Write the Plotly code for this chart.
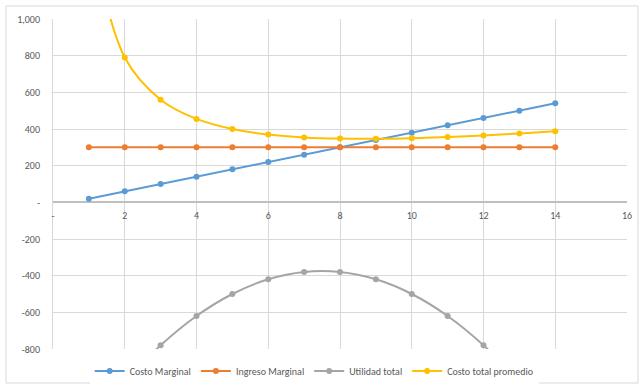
import plotly.graph_objects as go

# Quantity produced
cantidad = [1, 2, 3, 4, 5, 6, 7, 8, 9, 10, 11, 12, 13, 14]

# Series values
costo_marginal = [20, 60, 100, 140, 180, 220, 260, 300, 340, 380, 420, 460, 500, 540]
ingreso_marginal = [300, 300, 300, 300, 300, 300, 300, 300, 300, 300, 300, 300, 300, 300]
utilidad_total = [-1220, -980, -780, -620, -500, -420, -380, -380, -420, -500, -620, -780, -980, -1220]
costo_total_promedio = [1520, 790, 560, 455, 400, 370, 354.3, 347.5, 346.7, 350, 356.4, 365, 375.4, 387.1]

# Axis ticks
y_ticks = [1000, 800, 600, 400, 200, 0, -200, -400, -600, -800]
y_labels = ["1,000", "800", "600", "400", "200", "-", "-200", "-400", "-600", "-800"]
x_ticks = [0, 2, 4, 6, 8, 10, 12, 14, 16]
x_labels = ["-", "2", "4", "6", "8", "10", "12", "14", "16"]

series = [
    ("Costo Marginal", costo_marginal, "#5B9BD5", "linear"),
    ("Ingreso Marginal", ingreso_marginal, "#ED7D31", "linear"),
    ("Utilidad total", utilidad_total, "#A5A5A5", "spline"),
    ("Costo total promedio", costo_total_promedio, "#FFC000", "spline"),
]

fig = go.Figure()
for name, vals, color, shape in series:
    fig.add_trace(go.Scatter(
        x=cantidad, y=vals, name=name, mode="lines+markers",
        line=dict(color=color, width=2, shape=shape, smoothing=1.0),
        marker=dict(color=color, size=6),
    ))

font = dict(family="Carlito, Lato, 'Liberation Sans', sans-serif", size=10, color="#595959")
L, R, T, B = 53, 17, 19, 38
W, H = 644, 387
pw, ph = W - L - R, H - T - B

fig.update_layout(
    width=W, height=H,
    margin=dict(l=L, r=R, t=T, b=B, autoexpand=False),
    paper_bgcolor="white", plot_bgcolor="white",
    font=font,
    showlegend=True,
    legend=dict(orientation="h", x=0.455, xanchor="center",
                y=(349 - 371) / ph, yanchor="middle",
                font=dict(size=10, color="#595959"),
                itemwidth=30, tracegroupgap=0),
    xaxis=dict(range=[0, 16], tickvals=x_ticks, ticktext=x_labels,
               showgrid=True, gridcolor="#D9D9D9", gridwidth=1,
               zeroline=False, showline=False,
               anchor="free", position=800 / 1800,
               ticks="", tickfont=font, ticklabelstandoff=6),
    yaxis=dict(range=[-800, 1000], tickvals=y_ticks, ticktext=y_labels,
               showgrid=True, gridcolor="#D9D9D9", gridwidth=1,
               zeroline=True, zerolinecolor="#BFBFBF", zerolinewidth=1.5,
               showline=True, linecolor="#D9D9D9", linewidth=1,
               ticks="", tickfont=font, ticklabelstandoff=10),
)

# Outer chart border
fig.add_shape(type="rect", xref="paper", yref="paper",
              x0=(6 - L) / pw, x1=(638 - L) / pw,
              y0=(H - B - 383) / ph, y1=1 + (T - 6) / ph,
              line=dict(color="#D9D9D9", width=1), layer="below")

fig.write_html("out.html")
